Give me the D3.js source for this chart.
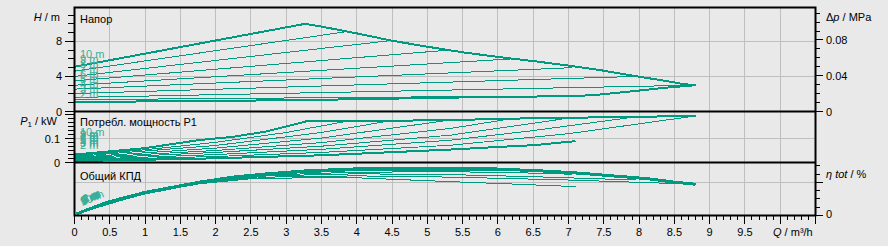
<!DOCTYPE html>
<html>
<head>
<meta charset="utf-8">
<script src="https://cdn.jsdelivr.net/npm/d3@7"></script>
<style>
  body { margin: 0; background: #e9e9e9; }
  svg text { font-family: "Liberation Sans", Arial, sans-serif; font-size: 11px; }
</style>
</head>
<body>
<svg id="chart" width="888" height="246"></svg>
<script>
// tick labels
const qLabels = ['0', '0.5', '1', '1.5', '2', '2.5', '3', '3.5', '4', '4.5', '5', '5.5', '6', '6.5', '7', '7.5', '8', '8.5', '9', '9.5'];
const headLabels = [0, 4, 8];
const pressureLabels = [0, 0.04, 0.08];
const powerLabels = [0, 0.1];
const setpoints = ['10 m', '9 m', '8 m', '7 m', '6 m', '5 m', '4 m', '3 m', '2 m'];

// head H / m  [Q, H]
const headMax = [[0, 5.1], [3.27, 10.0], [3.51, 9.67], [4.0, 8.91], [4.5, 8.07], [5.0, 7.39], [5.51, 6.74], [6.02, 6.2], [6.5, 5.75], [7.03, 5.21], [7.45, 4.72], [7.92, 4.07], [8.4, 3.46], [8.63, 3.12], [8.8, 3.0]];
const headMin = [[0, 1.1], [1.78, 1.18], [3.6, 1.35], [6.02, 1.67], [7.1, 1.75]];
const headEdge = [[7.1, 1.75], [7.45, 1.94], [7.92, 2.32], [8.4, 2.73], [8.8, 3.0]];
const headLines = [
  [[0, 4.6], [3.85, 9.1]],
  [[0, 4.0], [4.5, 8.1]],
  [[0, 3.5], [5.3, 7.0]],
  [[0, 3.0], [6.2, 6.0]],
  [[0, 2.55], [7.05, 5.0]],
  [[0, 2.05], [7.95, 4.0]],
  [[0, 1.6], [8.8, 3.0]],
  [[0, 1.35], [7.1, 1.8]]
];

// power P1 / kW  [Q, P]
const powerMax = [[0, 0.033], [1.0, 0.06], [1.78, 0.094], [2.25, 0.107], [2.73, 0.13], [3.29, 0.172], [5.33, 0.176], [6.0, 0.182], [8.8, 0.194]];
const powerMin = [[0, 0.006], [1.78, 0.016], [3.5, 0.03], [5.33, 0.054], [6.02, 0.065], [6.5, 0.072], [7.1, 0.089]];
const powerLines = [
  [[0, 0.029], [1, 0.053], [2, 0.084], [3, 0.125], [3.9, 0.174]],
  [[0, 0.025], [2, 0.071], [3.5, 0.125], [4.5, 0.175]],
  [[0, 0.021], [2, 0.06], [3.5, 0.102], [5.3, 0.176]],
  [[0, 0.018], [2, 0.05], [3.5, 0.083], [5.33, 0.142], [6.2, 0.183]],
  [[0, 0.015], [2, 0.042], [3.5, 0.068], [5.33, 0.114], [7.05, 0.187]],
  [[0, 0.012], [2, 0.033], [3.5, 0.055], [5.33, 0.093], [6.5, 0.133], [7.95, 0.19]],
  [[0, 0.01], [2, 0.025], [3.5, 0.042], [5.33, 0.072], [7.0, 0.12], [8.8, 0.194]]
];

// efficiency eta tot / %  [Q, eta]
const etaMax = [[0.03, 2], [0.46, 16], [1.0, 28], [1.78, 40.5], [2.25, 46.5], [2.73, 50.5], [3.27, 54], [4.0, 56.5], [4.6, 57.5], [5.33, 57.5], [6.0, 56.3], [6.75, 53.5], [7.2, 51], [7.67, 47.7], [8.14, 44.4], [8.5, 40.4], [8.8, 37.9]];
const etaMin = [[0.03, 2], [0.5, 15], [1.0, 26], [1.78, 39], [2.5, 45], [3.9, 46], [5.33, 41], [6.04, 38.7], [7.1, 35]];
const etaLines = [
  [[0.03, 2], [1.0, 28.5], [1.78, 41], [2.73, 51], [3.3, 53.5], [3.9, 55]],
  [[0.03, 2], [1.0, 28.5], [1.78, 41], [2.73, 51], [3.5, 54.5], [4.5, 56]],
  [[0.03, 2], [1.0, 28], [1.78, 40.5], [2.73, 50.5], [4.0, 55.5], [5.3, 56.5]],
  [[0.03, 2], [1.0, 28], [1.78, 40], [2.73, 50], [4.0, 54.5], [5.33, 55], [6.2, 54.5]],
  [[0.03, 2], [1.0, 27.5], [1.78, 39.5], [2.73, 49], [4.0, 52.5], [5.33, 53], [6.2, 52], [7.05, 50]],
  [[0.03, 2], [1.0, 27.5], [1.78, 39], [2.73, 48], [4.0, 50.5], [5.33, 49.5], [6.5, 47], [7.95, 43]],
  [[0.03, 2], [1.0, 27], [1.78, 38.5], [2.73, 46.5], [4.0, 48], [5.33, 46.5], [7.0, 43], [8.8, 37.9]]
];

const margins = { left: 74.5, right: 815.5 };
const green = '#009a80';
const greenLight = '#3aae9c';

const svg = d3.select('#chart');

const xScale = d3.scaleLinear().domain([0, 10.5]).range([margins.left, margins.right]);
const yHead = d3.scaleLinear().domain([0, 11.86]).range([111.5, 7.5]);
const yPress = d3.scaleLinear().domain([0, 0.1163]).range([111.5, 7.5]);
const yPower = d3.scaleLinear().domain([0, 0.2125]).range([162.5, 111.5]);
const yEta = d3.scaleLinear().domain([0, 64.2]).range([215.5, 162.5]);

// grid
const grid = svg.append('g').attr('stroke', '#bfbfbf').attr('stroke-width', 1).attr('shape-rendering', 'crispEdges');
d3.range(0.5, 10.5, 0.5).forEach(q => {
  grid.append('line').attr('x1', xScale(q)).attr('x2', xScale(q)).attr('y1', 7.5).attr('y2', 215.5);
});
[4, 8].forEach(h => grid.append('line').attr('x1', margins.left).attr('x2', margins.right).attr('y1', yHead(h)).attr('y2', yHead(h)));
grid.append('line').attr('x1', margins.left).attr('x2', margins.right).attr('y1', yPower(0.1)).attr('y2', yPower(0.1));
grid.append('line').attr('x1', margins.left).attr('x2', margins.right).attr('y1', yEta(40)).attr('y2', yEta(40));

// curves
function drawCurve(data, yScale, w) {
  const line = d3.line().x(d => xScale(d[0])).y(d => yScale(d[1]));
  svg.append('path')
    .datum(data)
    .attr('d', line)
    .attr('fill', 'none')
    .attr('stroke', green)
    .attr('stroke-width', w)
    .attr('shape-rendering', 'crispEdges');
}

headLines.forEach(d => drawCurve(d, yHead, 1));
drawCurve(headMin, yHead, 2);
drawCurve(headEdge, yHead, 2);
drawCurve(headMax, yHead, 2);

powerLines.forEach(d => drawCurve(d, yPower, 1));
drawCurve(powerMin, yPower, 2);
drawCurve(powerMax, yPower, 2);

etaLines.forEach(d => drawCurve(d, yEta, 1));
drawCurve(etaMin, yEta, 1);
drawCurve(etaMax, yEta, 3);

// curve labels
const labels = svg.append('g').attr('fill', greenLight);
setpoints.forEach((s, i) => {
  labels.append('text').attr('x', 80).attr('y', 58 + i * 5).text(s);
  labels.append('text').attr('x', 80).attr('y', 136 + i * 1.6).text(s);
  labels.append('text')
    .attr('transform', `translate(${82 + i * 0.3}, ${206 - i * 0.4}) rotate(-22)`)
    .text(s);
});

// frames
const frame = svg.append('g').attr('stroke', '#000').attr('stroke-width', 2).attr('fill', 'none');
frame.append('rect').attr('x', margins.left).attr('y', 7.5).attr('width', margins.right - margins.left).attr('height', 215.5 - 7.5);
[111.5, 162.5].forEach(y => frame.append('line').attr('x1', margins.left).attr('x2', margins.right).attr('y1', y).attr('y2', y));

// ticks
const ticks = svg.append('g').attr('stroke', '#000').attr('stroke-width', 1).attr('shape-rendering', 'crispEdges');
d3.range(0, 10.55, 0.1).forEach((q, i) => {
  const major = i % 5 === 0;
  ticks.append('line').attr('x1', xScale(q)).attr('x2', xScale(q)).attr('y1', 215.5).attr('y2', major ? 223.5 : 219.5);
});
d3.range(0, 12, 1).forEach(h => {
  const major = h % 4 === 0;
  ticks.append('line').attr('x1', major ? 65 : 68).attr('x2', margins.left).attr('y1', yHead(h)).attr('y2', yHead(h));
});
d3.range(0, 0.116, 0.01).forEach((p, i) => {
  const major = i % 4 === 0;
  ticks.append('line').attr('x1', margins.right).attr('x2', major ? 823 : 820).attr('y1', yPress(p)).attr('y2', yPress(p));
});
d3.range(0, 13, 1).forEach(i => {
  const p = i * 0.1 / 6;
  const major = i % 6 === 0;
  ticks.append('line').attr('x1', major ? 65 : 68).attr('x2', margins.left).attr('y1', yPower(p)).attr('y2', yPower(p));
});
d3.range(0, 61, 10).forEach((e, i) => {
  const major = i % 4 === 0;
  ticks.append('line').attr('x1', margins.right).attr('x2', major ? 823 : 820).attr('y1', yEta(e)).attr('y2', yEta(e));
});

// tick labels
const txt = svg.append('g').attr('fill', '#000');
qLabels.forEach((t, i) => {
  txt.append('text').attr('x', xScale(i * 0.5)).attr('y', 236).attr('text-anchor', 'middle').text(t);
});
headLabels.forEach(h => txt.append('text').attr('x', 62).attr('y', yHead(h) + 4).attr('text-anchor', 'end').text(h));
powerLabels.forEach(p => txt.append('text').attr('x', 60).attr('y', yPower(p) + 4).attr('text-anchor', 'end').text(p));
pressureLabels.forEach(p => txt.append('text').attr('x', 826).attr('y', yPress(p) + 4).text(p));
txt.append('text').attr('x', 826).attr('y', yEta(0) + 2).text('0');

// axis titles
const hTitle = txt.append('text').attr('x', 60).attr('y', 21).attr('text-anchor', 'end');
hTitle.append('tspan').attr('font-style', 'italic').text('H');
hTitle.append('tspan').text(' / m');

const pTitle = txt.append('text').attr('x', 57).attr('y', 125).attr('text-anchor', 'end');
pTitle.append('tspan').attr('font-style', 'italic').text('P');
pTitle.append('tspan').attr('font-size', '8px').attr('dy', 2).text('1');
pTitle.append('tspan').attr('dy', -2).text(' / kW');

const dpTitle = txt.append('text').attr('x', 826).attr('y', 21);
dpTitle.append('tspan').text('Δ');
dpTitle.append('tspan').attr('font-style', 'italic').text('p');
dpTitle.append('tspan').text(' / MPa');

const etaTitle = txt.append('text').attr('x', 826).attr('y', 178);
etaTitle.append('tspan').attr('font-style', 'italic').text('η tot');
etaTitle.append('tspan').text(' / %');

const qTitle = txt.append('text').attr('x', 773).attr('y', 236);
qTitle.append('tspan').attr('font-style', 'italic').text('Q');
qTitle.append('tspan').text(' / m³/h');

// panel titles
txt.append('text').attr('x', 80).attr('y', 23).text('Напор');
txt.append('text').attr('x', 80).attr('y', 126).text('Потребл. мощность P1');
txt.append('text').attr('x', 80).attr('y', 180).text('Общий КПД');
</script>
</body>
</html>
